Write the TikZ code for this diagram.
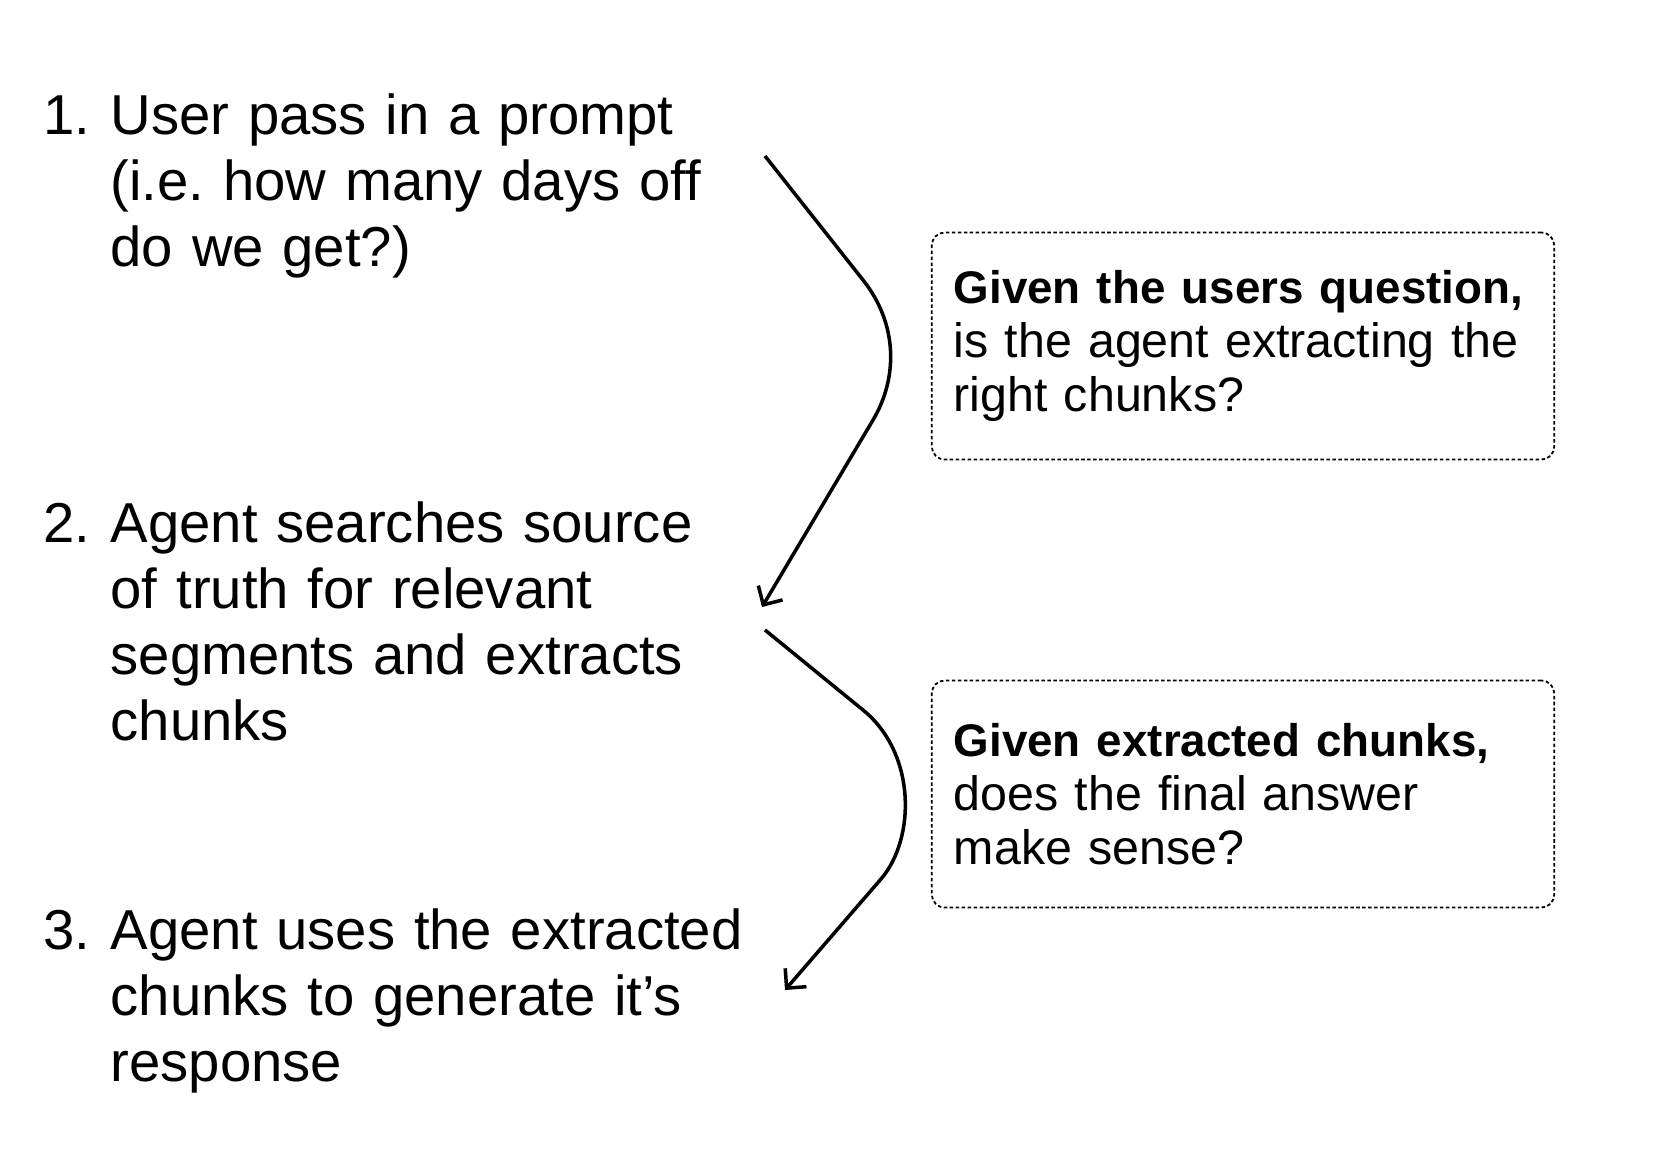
\documentclass[tikz,border=0pt]{standalone}
\usepackage{fontspec}
\setmainfont{Liberation Sans}
\usetikzlibrary{arrows.meta}
\frenchspacing

\newcommand{\stepfont}{\fontsize{16}{18.8}\selectfont}
\newcommand{\checkfont}{\fontsize{13.75}{15.4}\selectfont}
\newcommand{\checkbold}{\fontsize{13}{15.4}\selectfont\bfseries}

\tikzset{
  stepnum/.style={anchor=base west, inner sep=0pt, font=\stepfont},
  steptext/.style={anchor=base west, inner sep=0pt, font=\stepfont, text width=7cm, align=left},
  checkbox/.style={draw, dash pattern=on 1pt off 0.7pt, line width=0.5pt, rounded corners=3.7pt,
    minimum width=6.22cm, minimum height=2.27cm, inner xsep=0.22cm, text width=5.78cm, align=left, font=\checkfont},
  flow/.style={line width=1pt, -{Straight Barb[length=4pt,width=8pt]}}
}

\begin{document}
\begin{tikzpicture}[x=0.01cm, y=-0.01cm]
  \useasboundingbox (0,0) rectangle (1679,1157);
  % Steps
  \node[stepnum] (num1) at (43,134) {1.};
  \node[steptext] (step1) at (110,134) {User pass in a prompt\\(i.e. how many days off\\do we get?)};
  \node[stepnum] (num2) at (43,542) {2.};
  \node[steptext] (step2) at (110,542) {Agent searches source\\of truth for relevant\\segments and extracts\\chunks};
  \node[stepnum] (num3) at (43,949) {3.};
  \node[steptext] (step3) at (110,949) {Agent uses the extracted\\chunks to generate it’s\\response};
  % Checks
  \node[checkbox] (check1) at (1243,346) {{\checkbold Given the users question,}\\is the agent extracting the\\right chunks?};
  \node[checkbox] (check2) at (1243,794) {{\checkbold Given extracted chunks,}\\does the final answer\\make sense?};
  % Arrows
  \coordinate (out1) at (765,156);
  \coordinate (in2) at (762,607);
  \coordinate (out2) at (765,630);
  \coordinate (in3) at (785,990);
  \draw[flow] (out1) -- (863,280) .. controls (898,324) and (898,378) .. (873,420) -- (in2);
  \draw[flow] (out2) -- (863,710) .. controls (916,753) and (916,838) .. (881,879) -- (in3);
\end{tikzpicture}
\end{document}
